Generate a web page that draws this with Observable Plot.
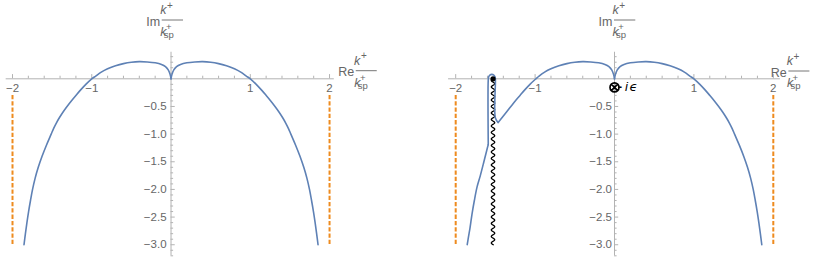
<!DOCTYPE html>
<html>
<head>
<meta charset="utf-8">
<script src="https://cdn.jsdelivr.net/npm/d3@7"></script>
<script src="https://cdn.jsdelivr.net/npm/@observablehq/plot@0.6"></script>
<style>
  body { margin: 0; background: #fff; }
  #wrap { display: flex; width: 830px; height: 258px; background: #fff; }
</style>
</head>
<body>
<div id="wrap"></div>
<script>
// ---------- data ----------
// left panel, branch going left from the cusp at 0
const lpLeftX = [0, -0.012, -0.035, -0.07, -0.12, -0.2, -0.3, -0.4, -0.5, -0.6, -0.7, -0.8, -0.88, -0.95, -1.0, -1.075, -1.14, -1.2, -1.258, -1.312, -1.362, -1.407, -1.447, -1.482, -1.512, -1.572, -1.627, -1.675, -1.715, -1.747, -1.773, -1.797, -1.818, -1.837, -1.855];
const lpLeftY = [0, 0.08, 0.16, 0.22, 0.26, 0.29, 0.305, 0.31, 0.30, 0.275, 0.235, 0.18, 0.12, 0.05, 0.0, -0.1, -0.2, -0.3, -0.4, -0.5, -0.6, -0.7, -0.8, -0.9, -1.0, -1.2, -1.4, -1.6, -1.8, -2.0, -2.2, -2.4, -2.6, -2.8, -3.0];
// left panel, branch going right from the cusp
const lpRightX = [0, 0.012, 0.035, 0.07, 0.12, 0.2, 0.3, 0.4, 0.5, 0.6, 0.7, 0.8, 0.88, 0.95, 1.0, 1.075, 1.14, 1.2, 1.258, 1.312, 1.362, 1.407, 1.447, 1.482, 1.512, 1.572, 1.627, 1.675, 1.715, 1.747, 1.773, 1.797, 1.818, 1.837, 1.855];
const lpRightY = [0, 0.08, 0.16, 0.22, 0.26, 0.29, 0.305, 0.31, 0.30, 0.275, 0.235, 0.18, 0.12, 0.05, 0.0, -0.1, -0.2, -0.3, -0.4, -0.5, -0.6, -0.7, -0.8, -0.9, -1.0, -1.2, -1.4, -1.6, -1.8, -2.0, -2.2, -2.4, -2.6, -2.8, -3.0];

// right panel: left branch up to the keyhole
const rpArcX = [0, -0.012, -0.035, -0.07, -0.12, -0.2, -0.3, -0.4, -0.5, -0.6, -0.7, -0.8, -0.88, -0.95, -0.99, -1.065, -1.13, -1.19, -1.25, -1.305, -1.36, -1.41, -1.465];
const rpArcY = [0, 0.08, 0.16, 0.22, 0.26, 0.29, 0.305, 0.31, 0.30, 0.275, 0.235, 0.18, 0.12, 0.05, 0.0, -0.1, -0.2, -0.3, -0.4, -0.5, -0.6, -0.69, -0.79];
// keyhole around the branch point
const rpKeyX = [-1.465, -1.50, -1.50, -1.505, -1.52, -1.545, -1.57, -1.585, -1.59, -1.59];
const rpKeyY = [-0.79, -0.71, -0.02, 0.035, 0.068, 0.08, 0.068, 0.035, -0.02, -1.19];
// continuation down to the bottom
const rpTailX = [-1.59, -1.61, -1.645, -1.69, -1.73, -1.765, -1.795, -1.82, -1.838, -1.855];
const rpTailY = [-1.19, -1.3, -1.5, -1.75, -1.95, -2.2, -2.45, -2.7, -2.85, -3.0];
// right panel, right branch
const rpRightX = [0, 0.012, 0.035, 0.07, 0.12, 0.2, 0.3, 0.4, 0.5, 0.6, 0.7, 0.8, 0.88, 0.95, 1.0, 1.075, 1.14, 1.2, 1.258, 1.312, 1.362, 1.407, 1.447, 1.482, 1.512, 1.572, 1.627, 1.675, 1.715, 1.747, 1.773, 1.797, 1.818, 1.837, 1.855];
const rpRightY = [0, 0.08, 0.16, 0.22, 0.26, 0.29, 0.305, 0.31, 0.30, 0.275, 0.235, 0.18, 0.12, 0.05, 0.0, -0.1, -0.2, -0.3, -0.4, -0.5, -0.6, -0.7, -0.8, -0.9, -1.0, -1.2, -1.4, -1.6, -1.8, -2.0, -2.2, -2.4, -2.6, -2.8, -3.0];

// branch cut and branch point
const cutX = [-1.53, -1.53];
const cutY = [0, -3.0];
const branchPoint = [{x: -1.53, y: 0}];
// the pole marker  ⊗ -iϵ
const poleMarker = [{x: 0, y: -0.155}];

// dashed orange verticals
const orangeX = [-2, 2];
const orangeTop = -0.3;
const orangeBottom = -3.0;

// ticks
const xMajor = [-2, -1, 1, 2];
const xMajorLabels = ["\u22122", "\u22121", "1", "2"];
const xMinor = [-1.8, -1.6, -1.4, -1.2, -0.8, -0.6, -0.4, -0.2, 0.2, 0.4, 0.6, 0.8, 1.2, 1.4, 1.6, 1.8];
const yMajor = [-0.5, -1.0, -1.5, -2.0, -2.5, -3.0];
const yMajorLabels = ["\u22120.5", "\u22121.0", "\u22121.5", "\u22122.0", "\u22122.5", "\u22123.0"];
const yMinor = [0.4, 0.3, 0.2, 0.1, -0.1, -0.2, -0.3, -0.4, -0.6, -0.7, -0.8, -0.9, -1.1, -1.2, -1.3, -1.4, -1.6, -1.7, -1.8, -1.9, -2.1, -2.2, -2.3, -2.4, -2.6, -2.7, -2.8, -2.9, -3.1, -3.2];

// ---------- styling ----------
const FONT = "'Liberation Sans', Arial, sans-serif";
const BLUE = "#5E81B5";
const ORANGE = "#EE8B1F";
const AXIS = "#b3b3b3";
const LABEL = "#666";

const pts = (xs, ys) => xs.map((x, i) => ({x, y: ys[i]}));

// a curve style that draws a wavy line between the first and last point
function wavy(context) {
  let p;
  return {
    areaStart() {}, areaEnd() {},
    lineStart() { p = []; },
    point(x, y) { p.push([+x, +y]); },
    lineEnd() {
      const [x0, y0] = p[0], [x1, y1] = p[p.length - 1];
      const dx = x1 - x0, dy = y1 - y0, L = Math.hypot(dx, dy);
      const ux = dx / L, uy = dy / L, nx = -uy, ny = ux;
      const period = 6.5, amp = 1.7, steps = Math.ceil(L / 0.4);
      context.moveTo(x0, y0);
      for (let i = 1; i <= steps; i++) {
        const t = (i / steps) * L;
        const o = amp * Math.sin((2 * Math.PI * t) / period);
        context.lineTo(x0 + ux * t + nx * o, y0 + uy * t + ny * o);
      }
    }
  };
}

// circle-with-cross symbol
const circleTimes = {
  draw(context, size) {
    const r = Math.sqrt(size / Math.PI);
    context.moveTo(r, 0);
    context.arc(0, 0, r, 0, 2 * Math.PI);
    const d = r * Math.SQRT1_2;
    context.moveTo(-d, -d); context.lineTo(d, d);
    context.moveTo(-d, d); context.lineTo(d, -d);
  }
};

function axisMarks(yLabelDx) {
  return [
    Plot.ruleY([0], {stroke: AXIS, strokeWidth: 1}),
    Plot.ruleX([0], {stroke: AXIS, strokeWidth: 1}),
    Plot.ruleX(xMajor, {x: d => d, y1: 0, y2: 0, insetTop: -4.2, stroke: AXIS}),
    Plot.ruleX(xMinor, {x: d => d, y1: 0, y2: 0, insetTop: -2.6, stroke: AXIS}),
    Plot.ruleY(yMajor, {y: d => d, x1: 0, x2: 0, insetRight: -4.2, stroke: AXIS}),
    Plot.ruleY(yMinor, {y: d => d, x1: 0, x2: 0, insetRight: -2.6, stroke: AXIS}),
    Plot.text(xMajor, {x: d => d, y: 0, text: (d, i) => xMajorLabels[i], dy: 9.5, fill: LABEL, fontSize: 11.5}),
    Plot.text(yMajor, {x: 0, y: d => d, text: (d, i) => yMajorLabels[i], dx: yLabelDx, textAnchor: "end", fill: LABEL, fontSize: 11.5}),
    Plot.ruleX(orangeX, {x: d => d, y1: orangeTop, y2: orangeBottom, stroke: ORANGE, strokeWidth: 2, strokeDasharray: "4.3,2"})
  ];
}

// "Im k+/k+sp" style label
function fracLabel(svg, prefix, x1, x2, lineY) {
  const g = svg.append("g").attr("fill", LABEL).attr("font-family", FONT).attr("font-size", 12.5);
  g.append("text").attr("x", x1 - 1.6).attr("y", lineY + 5.5).attr("text-anchor", "end").text(prefix);
  g.append("line").attr("x1", x1).attr("x2", x2).attr("y1", lineY).attr("y2", lineY)
    .attr("stroke", LABEL).attr("stroke-width", 0.9);
  const cx = (x1 + x2) / 2;
  const num = g.append("text").attr("x", cx - 5.8).attr("y", lineY - 6);
  num.append("tspan").attr("font-style", "italic").text("k");
  num.append("tspan").attr("font-size", 10).attr("dx", 0.6).attr("dy", -5.5).text("+");
  const den = g.append("text").attr("x", x1 + 1.6).attr("y", lineY + 16);
  den.append("tspan").attr("font-style", "italic").text("k");
  den.append("tspan").attr("x", x1 + 7).attr("dy", -6).attr("font-size", 9.5).text("+");
  den.append("tspan").attr("x", x1 + 7).attr("dy", 7.8).attr("font-size", 9.5).text("sp");
}

function panel(cfg) {
  const plot = Plot.plot({
    width: 415, height: 258,
    marginLeft: cfg.marginLeft, marginRight: cfg.marginRight,
    marginTop: 51.76, marginBottom: 2.7,
    x: {domain: cfg.xDomain, axis: null},
    y: {domain: [-3.2, 0.48], axis: null},
    style: {fontFamily: FONT, fontSize: "11.5px", background: "white", overflow: "visible"},
    marks: [...axisMarks(cfg.yLabelDx), ...cfg.marks]
  });
  const svg = d3.select(plot);
  const sx = plot.scale("x"), sy = plot.scale("y");
  const x0 = sx.apply(0);
  fracLabel(svg, "Im", x0 + cfg.imOff, x0 + cfg.imOff + 21.3, 20);
  fracLabel(svg, "Re", sx.apply(2) + cfg.reOff, sx.apply(2) + cfg.reOff + 21, cfg.reLine);
  if (cfg.after) cfg.after(svg, sx, sy);
  return plot;
}

const line = (xs, ys, curve) => Plot.line(pts(xs, ys), {x: "x", y: "y", stroke: BLUE, strokeWidth: 1.6, curve, strokeLinejoin: "round"});

const left = panel({
  marginLeft: 5.66, marginRight: 81.2, xDomain: [-2.08, 2.06], yLabelDx: -4.5,
  imOff: -8.8, reOff: 26.7, reLine: 70.7,
  marks: [
    line(lpLeftX, lpLeftY, "catmull-rom"),
    line(lpRightX, lpRightY, "catmull-rom")
  ]
});

const right = panel({
  marginLeft: 33.05, marginRight: 50.05, xDomain: [-2.09, 2.09], yLabelDx: -2.5,
  imOff: 0, reOff: 15.6, reLine: 71,
  marks: [
    Plot.line(pts(cutX, cutY), {x: "x", y: "y", stroke: "black", strokeWidth: 1.3, curve: wavy}),
    line(rpArcX, rpArcY, "catmull-rom"),
    line(rpKeyX, rpKeyY, "catmull-rom"),
    line(rpTailX, rpTailY, "catmull-rom"),
    line(rpRightX, rpRightY, "catmull-rom"),
    Plot.dot(branchPoint, {x: "x", y: "y", r: 2.6, fill: "black"}),
    Plot.dot(poleMarker, {x: "x", y: "y", r: 4.5, symbol: circleTimes, stroke: "black", strokeWidth: 1.7, fill: "none"})
  ],
  after(svg, sx, sy) {
    const p = poleMarker[0];
    const px = sx.apply(p.x), py = sy.apply(p.y);
    const g = svg.append("g").attr("fill", "black").attr("font-family", FONT).attr("font-size", 13);
    g.append("text").attr("x", px + 5.8).attr("y", py).attr("dy", "0.35em").attr("font-weight", "bold").text("-");
    g.append("text").attr("x", px + 12.5).attr("y", py).attr("dy", "0.35em").attr("font-style", "italic").text("i");
    g.append("text").attr("x", px + 19.5).attr("y", py).attr("dy", "0.35em").attr("font-style", "italic")
      .attr("font-family", "'DejaVu Sans', sans-serif").text("\u03F5");
  }
});

document.getElementById("wrap").append(left, right);
</script>
</body>
</html>
